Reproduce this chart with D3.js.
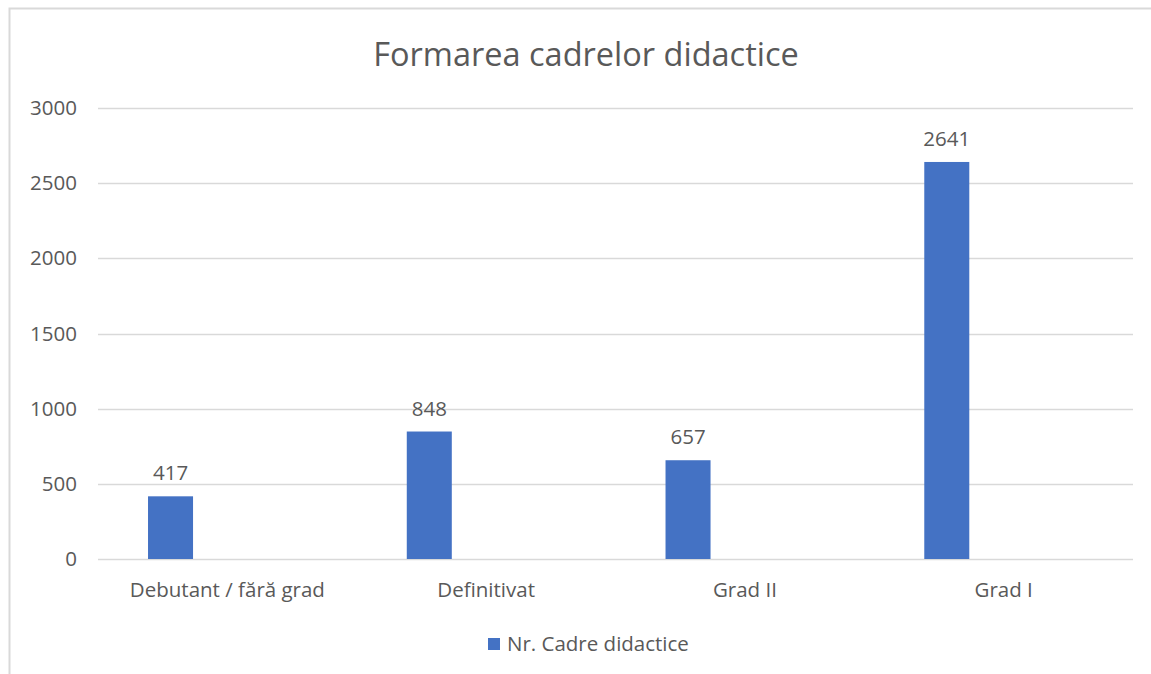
<!DOCTYPE html>
<html>
<head>
<meta charset="utf-8">
<script src="https://cdn.jsdelivr.net/npm/d3@7"></script>
<style>
  body { margin: 0; background: #fff; }
  text { font-family: "Open Sans", "Noto Sans", sans-serif; fill: #595959; }
</style>
</head>
<body>
<div id="chart"></div>
<script>
const width = 1151;
const height = 674;

// Date
const categories = ["Debutant / fără grad", "Definitivat", "Grad II", "Grad I"];
const values = [417, 848, 657, 2641];
const seriesName = "Nr. Cadre didactice";
const yTicks = [0, 500, 1000, 1500, 2000, 2500, 3000];

const margin = { top: 108, right: 18, bottom: 115, left: 98 };
const fontSize = "20.5px";

const svg = d3.select("#chart")
    .append("svg")
    .attr("width", width)
    .attr("height", height);

// cadrul graficului
svg.append("rect")
    .attr("x", 9.5)
    .attr("y", 8.5)
    .attr("width", width + 20)
    .attr("height", height + 20)
    .attr("fill", "none")
    .attr("stroke", "#d9d9d9")
    .attr("stroke-width", 2);

const x = d3.scaleBand()
    .domain(categories)
    .range([margin.left, width - margin.right])
    .padding(0);

// doua locuri pe categorie (a doua serie e goala, ca in Excel)
const xSlot = d3.scaleBand()
    .domain([0, 1])
    .range([0, x.bandwidth()])
    .paddingInner(0.604)
    .paddingOuter(0.44);

const y = d3.scaleLinear()
    .domain([0, 3000])
    .range([height - margin.bottom, margin.top]);

// grila
svg.append("g")
    .selectAll("line")
    .data(yTicks)
    .enter()
    .append("line")
    .attr("x1", margin.left)
    .attr("x2", width - margin.right)
    .attr("y1", d => Math.round(y(d)) + 0.5)
    .attr("y2", d => Math.round(y(d)) + 0.5)
    .attr("stroke", "#d9d9d9")
    .attr("stroke-width", 1.5);

// axa Y
const yAxis = svg.append("g")
    .attr("transform", `translate(${margin.left - 21},0)`)
    .call(d3.axisLeft(y).tickValues(yTicks).tickFormat(d3.format("d")).tickSize(0).tickPadding(0));
yAxis.select(".domain").remove();
yAxis.selectAll("text")
    .style("font-size", fontSize)
    .style("font-family", "'Open Sans', sans-serif")
    .attr("fill", "#595959");

// axa X
const xAxis = svg.append("g")
    .attr("transform", `translate(0,${height - margin.bottom})`)
    .call(d3.axisBottom(x).tickSize(0).tickPadding(23));
xAxis.select(".domain").remove();
xAxis.selectAll("text")
    .style("font-size", fontSize)
    .style("font-family", "'Open Sans', sans-serif")
    .attr("fill", "#595959");

// bare
const data = categories.map((c, i) => ({ cat: c, value: values[i] }));

svg.append("g")
    .selectAll("rect")
    .data(data)
    .enter()
    .append("rect")
    .attr("x", d => x(d.cat) + xSlot(0))
    .attr("width", xSlot.bandwidth())
    .attr("y", d => y(d.value))
    .attr("height", d => y(0) - y(d.value))
    .attr("fill", "#4472c4");

// etichete valori
svg.append("g")
    .selectAll("text")
    .data(data)
    .enter()
    .append("text")
    .attr("x", d => x(d.cat) + xSlot(0) + xSlot.bandwidth() / 2)
    .attr("y", d => y(d.value) - 16)
    .attr("text-anchor", "middle")
    .style("font-size", fontSize)
    .text(d => d.value);

// titlu
svg.append("text")
    .attr("x", 586)
    .attr("y", 66)
    .attr("text-anchor", "middle")
    .style("font-size", "32.5px")
    .text("Formarea cadrelor didactice");

// legenda
const legend = svg.append("g")
    .attr("transform", "translate(488,638)");
legend.append("rect")
    .attr("width", 12)
    .attr("height", 12)
    .attr("fill", "#4472c4");
legend.append("text")
    .attr("x", 19)
    .attr("y", 13)
    .style("font-size", fontSize)
    .text(seriesName);
</script>
</body>
</html>
